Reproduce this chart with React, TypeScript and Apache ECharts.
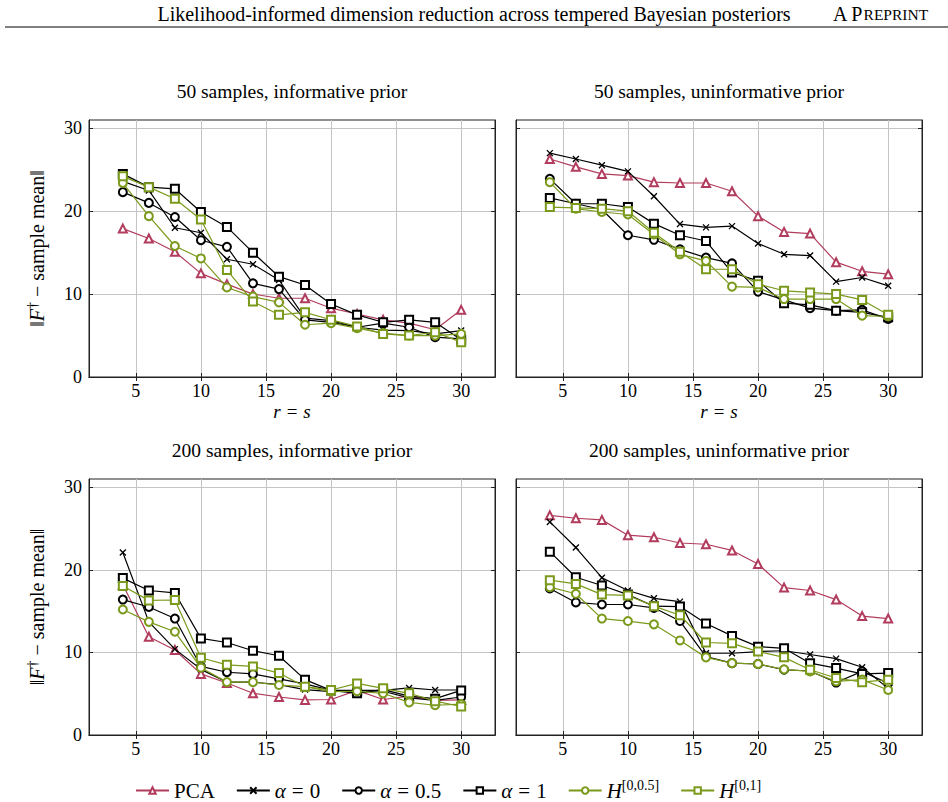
import React, { useEffect, useRef } from "react";
import * as echarts from "echarts";

// Reduced dimension r = s
const RS = [4, 6, 8, 10, 12, 14, 16, 18, 20, 22, 24, 26, 28, 30];

const X_TICKS = [5, 10, 15, 20, 25, 30];
const Y_TICKS = [0, 10, 20, 30];

const METHODS = ["PCA", "α = 0", "α = 0.5", "α = 1", "H[0,0.5]", "H[0,1]"];

const PANEL_TITLES = [
  "50 samples, informative prior",
  "50 samples, uninformative prior",
  "200 samples, informative prior",
  "200 samples, uninformative prior",
];

// 50 samples, informative prior
const s50InfPCA = [17.9, 16.7, 15.1, 12.5, 11.2, 10.0, 9.5, 9.5, 8.3, 7.6, 6.9, 6.5, 5.7, 8.1];
const s50InfA0 = [23.6, 22.5, 18.0, 17.4, 14.2, 13.6, 11.7, 7.1, 6.8, 6.0, 5.65, 5.6, 5.2, 5.6];
const s50InfA05 = [22.3, 21.0, 19.3, 16.5, 15.7, 11.3, 10.6, 6.9, 6.6, 6.0, 6.5, 6.0, 4.8, 4.6];
const s50InfA1 = [24.5, 22.9, 22.7, 19.9, 18.1, 15.0, 12.1, 11.1, 8.8, 7.5, 6.6, 6.9, 6.6, 4.5];
const s50InfH05 = [23.4, 19.4, 15.8, 14.3, 10.8, 9.7, 9.0, 6.3, 6.5, 5.9, 5.3, 5.0, 5.0, 5.2];
const s50InfH1 = [24.2, 22.9, 21.5, 19.0, 12.9, 9.1, 7.5, 7.8, 6.9, 6.1, 5.2, 5.0, 5.4, 4.2];

// 50 samples, uninformative prior
const s50UninfPCA = [26.3, 25.35, 24.5, 24.3, 23.5, 23.4, 23.4, 22.4, 19.4, 17.5, 17.3, 13.85, 12.75, 12.4];
const s50UninfA0 = [27.0, 26.3, 25.55, 24.8, 21.8, 18.45, 18.05, 18.2, 16.1, 14.8, 14.65, 11.5, 12.0, 11.0];
const s50UninfA05 = [23.9, 20.9, 20.2, 17.1, 16.55, 15.4, 14.4, 13.7, 10.3, 9.3, 8.3, 8.0, 8.1, 7.0];
const s50UninfA1 = [21.6, 20.9, 20.9, 20.5, 18.5, 17.1, 16.4, 12.6, 11.6, 8.9, 8.7, 8.0, 7.8, 7.2];
const s50UninfH05 = [23.5, 20.3, 19.9, 19.6, 17.2, 14.8, 14.0, 10.9, 10.8, 9.4, 9.4, 9.4, 7.4, 7.3];
const s50UninfH1 = [20.5, 20.4, 20.3, 20.0, 17.4, 15.1, 13.0, 13.0, 11.2, 10.4, 10.2, 10.0, 9.3, 7.5];

// 200 samples, informative prior
const s200InfPCA = [18.2, 11.9, 10.3, 7.4, 6.3, 5.05, 4.6, 4.25, 4.3, 5.4, 4.3, 4.7, 4.2, 4.25];
const s200InfA0 = [22.1, 13.7, 10.4, 7.95, 6.4, 6.4, 6.1, 5.5, 5.25, 5.4, 5.4, 5.7, 5.45, 5.45];
const s200InfA05 = [16.4, 15.5, 14.1, 8.3, 7.6, 7.4, 6.8, 6.2, 5.4, 5.4, 5.3, 4.5, 4.2, 4.6];
const s200InfA1 = [19.0, 17.5, 17.2, 11.7, 11.2, 10.2, 9.6, 6.7, 5.4, 5.05, 5.5, 4.7, 4.4, 5.4];
const s200InfH05 = [15.2, 13.7, 12.5, 8.15, 6.4, 6.4, 6.05, 5.85, 5.25, 5.3, 5.05, 3.95, 3.6, 3.75];
const s200InfH1 = [18.05, 16.3, 16.35, 9.35, 8.5, 8.3, 7.5, 5.85, 5.45, 6.25, 5.65, 5.05, 4.1, 3.45];

// 200 samples, uninformative prior
const s200UninfPCA = [26.6, 26.25, 26.05, 24.2, 23.95, 23.25, 23.1, 22.35, 20.7, 17.85, 17.5, 16.4, 14.4, 14.1];
const s200UninfA0 = [25.8, 22.7, 19.05, 17.5, 16.55, 16.15, 9.9, 9.9, 10.1, 10.2, 9.75, 9.25, 8.2, 5.65];
const s200UninfA05 = [17.75, 16.05, 15.8, 15.8, 15.4, 13.8, 9.5, 8.7, 8.6, 7.9, 7.75, 6.35, 7.7, 6.25];
const s200UninfA1 = [22.2, 19.1, 18.1, 17.0, 15.6, 15.55, 13.5, 12.0, 10.7, 10.5, 8.7, 8.1, 7.4, 7.5];
const s200UninfH05 = [17.9, 17.1, 14.1, 13.8, 13.4, 11.45, 9.4, 8.7, 8.6, 7.95, 7.7, 6.5, 6.7, 5.45];
const s200UninfH1 = [18.75, 18.3, 17.0, 16.9, 15.6, 14.5, 11.2, 11.1, 10.1, 9.4, 7.9, 6.9, 6.4, 6.7];

const PANELS = [
  [s50InfPCA, s50InfA0, s50InfA05, s50InfA1, s50InfH05, s50InfH1],
  [s50UninfPCA, s50UninfA0, s50UninfA05, s50UninfA1, s50UninfH05, s50UninfH1],
  [s200InfPCA, s200InfA0, s200InfA05, s200InfA1, s200InfH05, s200InfH1],
  [s200UninfPCA, s200UninfA0, s200UninfA05, s200UninfA1, s200UninfH05, s200UninfH1],
];

const RED = "#b23c5d";
const GREEN = "#7b9a1c";
const BLACK = "#000000";
const SERIF = "Liberation Serif";

const CROSS = "path://M0,0L10,10M10,0L0,10";

const STYLES = [
  { color: RED, symbol: "emptyTriangle", size: 8 },
  { color: BLACK, symbol: CROSS, size: 6 },
  { color: BLACK, symbol: "emptyCircle", size: 8 },
  { color: BLACK, symbol: "emptyRect", size: 8 },
  { color: GREEN, symbol: "emptyCircle", size: 8 },
  { color: GREEN, symbol: "emptyRect", size: 8 },
];

// grid boxes: [left, top, width, height]
const BOXES = [
  [89, 120, 406, 257],
  [516, 120, 406, 257],
  [89, 479, 406, 256],
  [516, 479, 406, 256],
];

const X_MIN = 1.4;
const X_MAX = 32.6;
const Y_MIN = 0;
const Y_MAX = 31;

function mathRich(size: number) {
  return {
    rm: { fontFamily: SERIF, fontSize: size, color: "#000" },
    it: { fontFamily: SERIF, fontSize: size, fontStyle: "italic", color: "#000" },
    eq: { fontFamily: SERIF, fontSize: size, color: "#000", padding: [0, Math.round(size * 0.3), 0, Math.round(size * 0.3)] },
    sup: {
      fontFamily: SERIF,
      fontSize: Math.round(size * 0.68),
      color: "#000",
      verticalAlign: "top",
      padding: [0, 0, Math.round(size * 0.5), 0],
    },
  };
}

function legendLabel(name: string): string {
  if (name === "PCA") return "{rm|PCA}";
  if (name.startsWith("α")) return "{it|α}{eq|=}{rm|" + name.slice(4) + "}";
  return "{it|H}{sup|" + name.slice(1) + "}";
}

export default function App() {
  const ref = useRef<HTMLDivElement>(null);

  useEffect(() => {
    if (!ref.current) return;
    const chart = echarts.init(ref.current, undefined, { renderer: "svg" });

    const grids: any[] = [];
    const xAxes: any[] = [];
    const yAxes: any[] = [];
    const series: any[] = [];

    BOXES.forEach((b, p) => {
      grids.push({
        left: b[0],
        top: b[1],
        width: b[2],
        height: b[3],
        show: true,
        borderColor: "#222",
        borderWidth: 1,
        backgroundColor: "transparent",
      });
      const isTop = p < 2;
      const isLeft = p % 2 === 0;
      const xBase = {
        type: "value",
        gridIndex: p,
        min: X_MIN,
        max: X_MAX,
        axisLine: { show: true, lineStyle: { color: "#222", width: 1 } },
        axisTick: { show: true, inside: true, length: 4, customValues: X_TICKS, lineStyle: { color: "#222" } },
      };
      xAxes.push({
        ...xBase,
        position: "bottom",
        axisLabel: {
          show: true,
          customValues: X_TICKS,
          fontFamily: SERIF,
          fontSize: 18,
          color: "#000",
          margin: 5,
        },
        splitLine: { show: true, lineStyle: { color: "#c4c4c4", width: 1 } },
        name: isTop ? "{it|r}{eq|=}{it|s}" : "",
        nameLocation: "middle",
        nameGap: 25,
        nameTextStyle: { rich: mathRich(19) },
      });
      xAxes.push({
        ...xBase,
        position: "top",
        axisLabel: { show: false },
        splitLine: { show: false },
      });
      const yBase = {
        type: "value",
        gridIndex: p,
        min: Y_MIN,
        max: Y_MAX,
        axisLine: { show: true, lineStyle: { color: "#222", width: 1 } },
        axisTick: { show: true, inside: true, length: 4, customValues: Y_TICKS, lineStyle: { color: "#222" } },
      };
      yAxes.push({
        ...yBase,
        position: "left",
        axisLabel: {
          show: isLeft,
          customValues: Y_TICKS,
          fontFamily: SERIF,
          fontSize: 18,
          color: "#000",
          margin: 7,
        },
        splitLine: { show: true, lineStyle: { color: "#c4c4c4", width: 1 } },
        name: isLeft ? "‖{it|F}{sup|†}{rm| − sample mean}‖" : "",
        nameLocation: "middle",
        nameGap: 40,
        nameRotate: 90,
        nameTextStyle: { fontFamily: SERIF, fontSize: 20, color: "#000", rich: mathRich(20) },
      });
      yAxes.push({
        ...yBase,
        position: "right",
        axisLabel: { show: false },
        splitLine: { show: false },
      });

      PANELS[p].forEach((vals, m) => {
        const st = STYLES[m];
        series.push({
          type: "line",
          name: METHODS[m],
          xAxisIndex: p * 2,
          yAxisIndex: p * 2,
          data: RS.map((r, i) => [r, vals[i]]),
          symbol: st.symbol,
          symbolSize: st.size,
          showAllSymbol: true,
          lineStyle: { color: st.color, width: 1.2 },
          itemStyle: { color: st.color, borderColor: st.color, borderWidth: 1.3 },
          emphasis: { disabled: true },
          z: 2 + m,
        });
      });
    });

    const titlePos = [
      [292, 91],
      [719, 91],
      [292, 450],
      [719, 450],
    ];

    const graphic: any[] = [
      {
        type: "text",
        x: 474,
        y: 14,
        style: {
          text: "Likelihood-informed dimension reduction across tempered Bayesian posteriors",
          fontFamily: SERIF,
          fontSize: 20,
          fill: "#000",
          align: "center",
          verticalAlign: "middle",
        },
      },
      {
        type: "text",
        x: 833,
        y: 14,
        style: {
          text: "{a|A P}{b|REPRINT}",
          align: "left",
          verticalAlign: "middle",
          rich: {
            a: { fontFamily: SERIF, fontSize: 20, color: "#000" },
            b: { fontFamily: SERIF, fontSize: 15.5, color: "#000" },
          },
        },
      },
      {
        type: "line",
        shape: { x1: 5, y1: 27, x2: 948, y2: 27 },
        style: { stroke: "#000", lineWidth: 1 },
      },
      ...PANEL_TITLES.map((t, i) => ({
        type: "text",
        x: titlePos[i][0],
        y: titlePos[i][1],
        style: {
          text: t,
          fontFamily: SERIF,
          fontSize: 19.5,
          fill: "#000",
          align: "center",
          verticalAlign: "middle",
        },
      })),
    ];

    chart.setOption({
      animation: false,
      backgroundColor: "#fff",
      grid: grids,
      xAxis: xAxes,
      yAxis: yAxes,
      series,
      graphic,
      legend: {
        data: METHODS,
        left: 130,
        top: 773,
        itemWidth: 33,
        itemHeight: 8,
        itemGap: 21,
        selectedMode: false,
        formatter: legendLabel,
        textStyle: { fontFamily: SERIF, fontSize: 21, color: "#000", rich: mathRich(21) },
      },
    });

    return () => chart.dispose();
  }, []);

  return (
    <div
      ref={ref}
      style={{ position: "fixed", left: 0, top: 0, width: 948, height: 802 }}
    />
  );
}
